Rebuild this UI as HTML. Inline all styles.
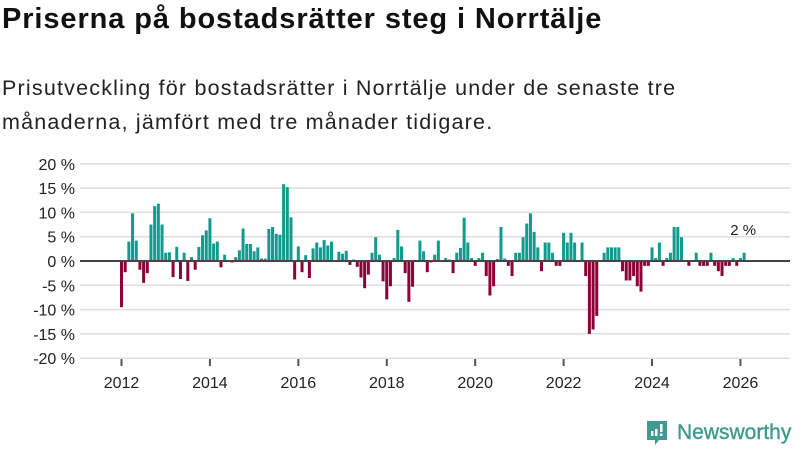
<!DOCTYPE html>
<html><head><meta charset="utf-8"><style>
body{margin:0;width:800px;height:450px;background:#fff;overflow:hidden;font-family:"Liberation Sans","DejaVu Sans",sans-serif;color:#111}
#title{position:absolute;left:2px;top:3px;font-size:29px;font-weight:bold;margin:0;letter-spacing:0.9px}
#sub{position:absolute;left:2px;top:71px;font-size:21.5px;line-height:34px;color:#222;width:705px;letter-spacing:1.2px}
svg{position:absolute;left:0;top:0}
</style></head><body>
<h1 id="title">Priserna på bostadsrätter steg i Norrtälje</h1>
<div id="sub">Prisutveckling för bostadsrätter i Norrtälje under de senaste tre<br>månaderna, jämfört med tre månader tidigare.</div>
<svg id="chart" width="800" height="450"></svg>
<script>
const startYear = 2012;
const values = [-9.5,-2.3,4,9.8,4.2,-1.8,-4.5,-2.5,7.5,11.3,11.8,7.5,1.7,1.8,-3.3,2.9,-3.7,1.7,-4.1,0.8,-1.8,2.9,5.3,6.3,8.8,3.6,4.0,-1.3,1.3,0,-0.3,0.8,2.2,6.7,3.5,3.5,2.0,2.8,0.5,0.5,6.6,7.0,5.6,5.4,15.8,15.2,9.0,-3.8,3.0,-2.3,1.2,-3.5,
2.6,3.8,2.8,4.3,3.2,4.0,0,1.9,1.5,2.1,-0.8,0.3,-1.2,-3.4,-5.6,-2.8,1.7,4.9,1.3,-4.2,-7.9,-5.2,0.6,6.4,3.0,-2.5,-8.4,-5.3,0,4.2,2.0,-2.3,-0.3,1.3,4.2,0,0.6,0.3,-2.5,1.7,2.7,8.9,3.8,0.6,-1.0,0.6,1.7,-3.1,-7.1,-5.2,0.4,7.0,0.5,-1.0,-3.1,1.7,1.7,4.9,7.7,
9.8,6.0,2.8,-2.1,3.8,3.8,1.7,-1.0,-1.0,5.8,3.8,5.8,3.8,0,3.8,-3.1,-15.0,-14.1,-11.3,0,1.7,2.8,2.8,2.8,2.8,-2.1,-4.0,-4.0,-3.1,-5.2,-6.3,-1.0,-1.0,2.8,0.6,3.8,-1.0,0.6,1.7,7.0,7.0,4.9,0,-1.0,0,1.7,-1.0,-1.0,-1.0,1.7,-1.0,-2.1,-3.1,-1.0,-1.0,0.6,-1.0,0.6,1.7];
const yTicks = [20,15,10,5,0,-5,-10,-15,-20];
const xTicks = [2012,2014,2016,2018,2020,2022,2024,2026];
const lastLabel = "2 %";

const NS="http://www.w3.org/2000/svg";
const svg=document.getElementById('chart');
function y(v){return 261 - v*4.86;}
function x(yr){return 121.5 + (yr-2012)*44.21;}
function mk(t,a){const e=document.createElementNS(NS,t);for(const k in a)e.setAttribute(k,a[k]);svg.appendChild(e);return e;}
yTicks.forEach(t=>{
  const g=mk('line',{x1:80,x2:790,y1:y(t),y2:y(t),stroke:'#dedede','stroke-width':1.5});
  
  
  const l=mk('text',{x:75,y:y(t)+6,'text-anchor':'end','font-size':16,fill:'#222'});
  l.textContent=(t<0?'-':'')+Math.abs(t)+' %';
  
  
});
values.forEach((v,i)=>{
  const cx=x(startYear+i/12);
  const r=mk('rect',{x:cx-1.5,width:3,y:Math.min(y(v),y(0)),height:Math.abs(y(v)-y(0)),fill:v>=0?'#0f9b8e':'#8c0236'});
  
  
});
const z=mk('line',{x1:80,x2:790,y1:y(0),y2:y(0),stroke:'#444','stroke-width':2});


xTicks.forEach(t=>{
  const tk=mk('line',{x1:x(t),x2:x(t),y1:359,y2:366,stroke:'#555','stroke-width':2});
  
  
  const l=mk('text',{x:x(t),y:388,'text-anchor':'middle','font-size':16,fill:'#222'});
  l.textContent=t;
  
  
});
const li=values.length-1;
const lab=mk('text',{x:x(startYear+li/12)-1,y:235,'text-anchor':'middle','font-size':15,fill:'#222'});
lab.textContent=lastLabel;


</script>
<div style="position:absolute;left:645px;top:419px;display:flex;align-items:center">
  <svg width="24" height="28" style="position:static"><path d="M2 2h20v19H14l-4 5v-5H2z" fill="#3f9a8f"/><rect x="6" y="12" width="2.5" height="5" fill="#fff"/><rect x="10" y="10" width="2.5" height="7" fill="#fff"/><rect x="15" y="5" width="2.5" height="8" fill="#fff"/><rect x="15" y="14.5" width="2.5" height="2.5" fill="#fff"/></svg>
  <span style="font-size:21px;color:#3f9a8f;margin-left:8px;-webkit-text-stroke:0.4px #3f9a8f">Newsworthy</span>
</div>
</body></html>
